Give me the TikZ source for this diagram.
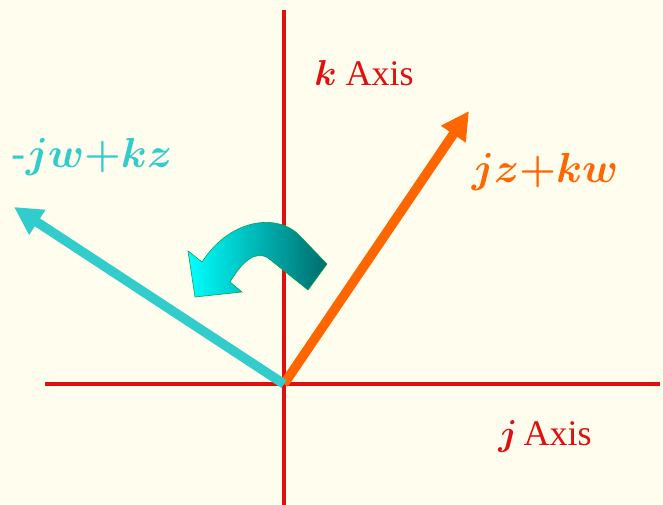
\documentclass[tikz,border=0pt]{standalone}
\usepackage{fix-cm}
\usepackage{fontspec}
\setmainfont{Liberation Serif}
\usepackage{amsmath,bm}
\usetikzlibrary{arrows.meta}
\definecolor{cbg}{HTML}{FFFEEE}
\definecolor{cred}{HTML}{E01010}
\definecolor{corange}{HTML}{FF6600}
\definecolor{ccyan}{HTML}{33CCCC}
\definecolor{cteal}{HTML}{006B6B}
\definecolor{cturn}{HTML}{00FFFF}
\tikzset{
  every picture/.style={x=1pt, y=-1pt},
  axis/.style={draw=cred, line width=3.2pt},
  vec/.style={line width=9.5pt, -{Triangle[length=28pt,width=28pt]}},
  lab/.style={font=\fontsize{42}{44}\selectfont, inner sep=0pt},
  axlab/.style={font=\fontsize{36}{38}\selectfont, text=cred, inner sep=0pt},
}
\begin{document}
\begin{tikzpicture}
  \fill[cbg] (0,0) rectangle (663,505);
  \useasboundingbox (0,0) rectangle (663,505);
  % axes
  \coordinate (o) at (284,384);
  \coordinate (ktop) at (284,10);
  \coordinate (kbot) at (284,505);
  \coordinate (jl) at (45,384);
  \coordinate (jr) at (660,384);
  \draw[axis] (kbot) -- (ktop);
  \draw[axis] (jl) -- (jr);
  \node[axlab] (klab) at (364,73) {$\bm{k}$ Axis};
  \node[axlab] (jlab) at (545,437) {$\bm{j}$\,Axis};
  % vectors
  \coordinate (otip) at (469,111);
  \coordinate (ctip) at (14,207);
  \draw[vec, corange] (o) -- (otip);
  \draw[vec, ccyan] (o) -- (ctip);
  \node[lab, text=corange] (olab) at (545,172) {$\bm{jz{+}kw}$};
  \node[lab, text=ccyan] (clab) at (92,157) {$\bm{\text{-}jw{+}kz}$};
  % turning arrow
  \shade[left color=cturn, right color=cteal, draw=teal!70!green, line width=0.6pt]
    (327,264) -- (300,236) .. controls (280,214) and (232,216) .. (202,262)
    -- (188,251) -- (195,297) -- (242,292) -- (230,282)
    .. controls (242,262) and (255,250) .. (268,258) -- (308,290) -- cycle;
\end{tikzpicture}
\end{document}
